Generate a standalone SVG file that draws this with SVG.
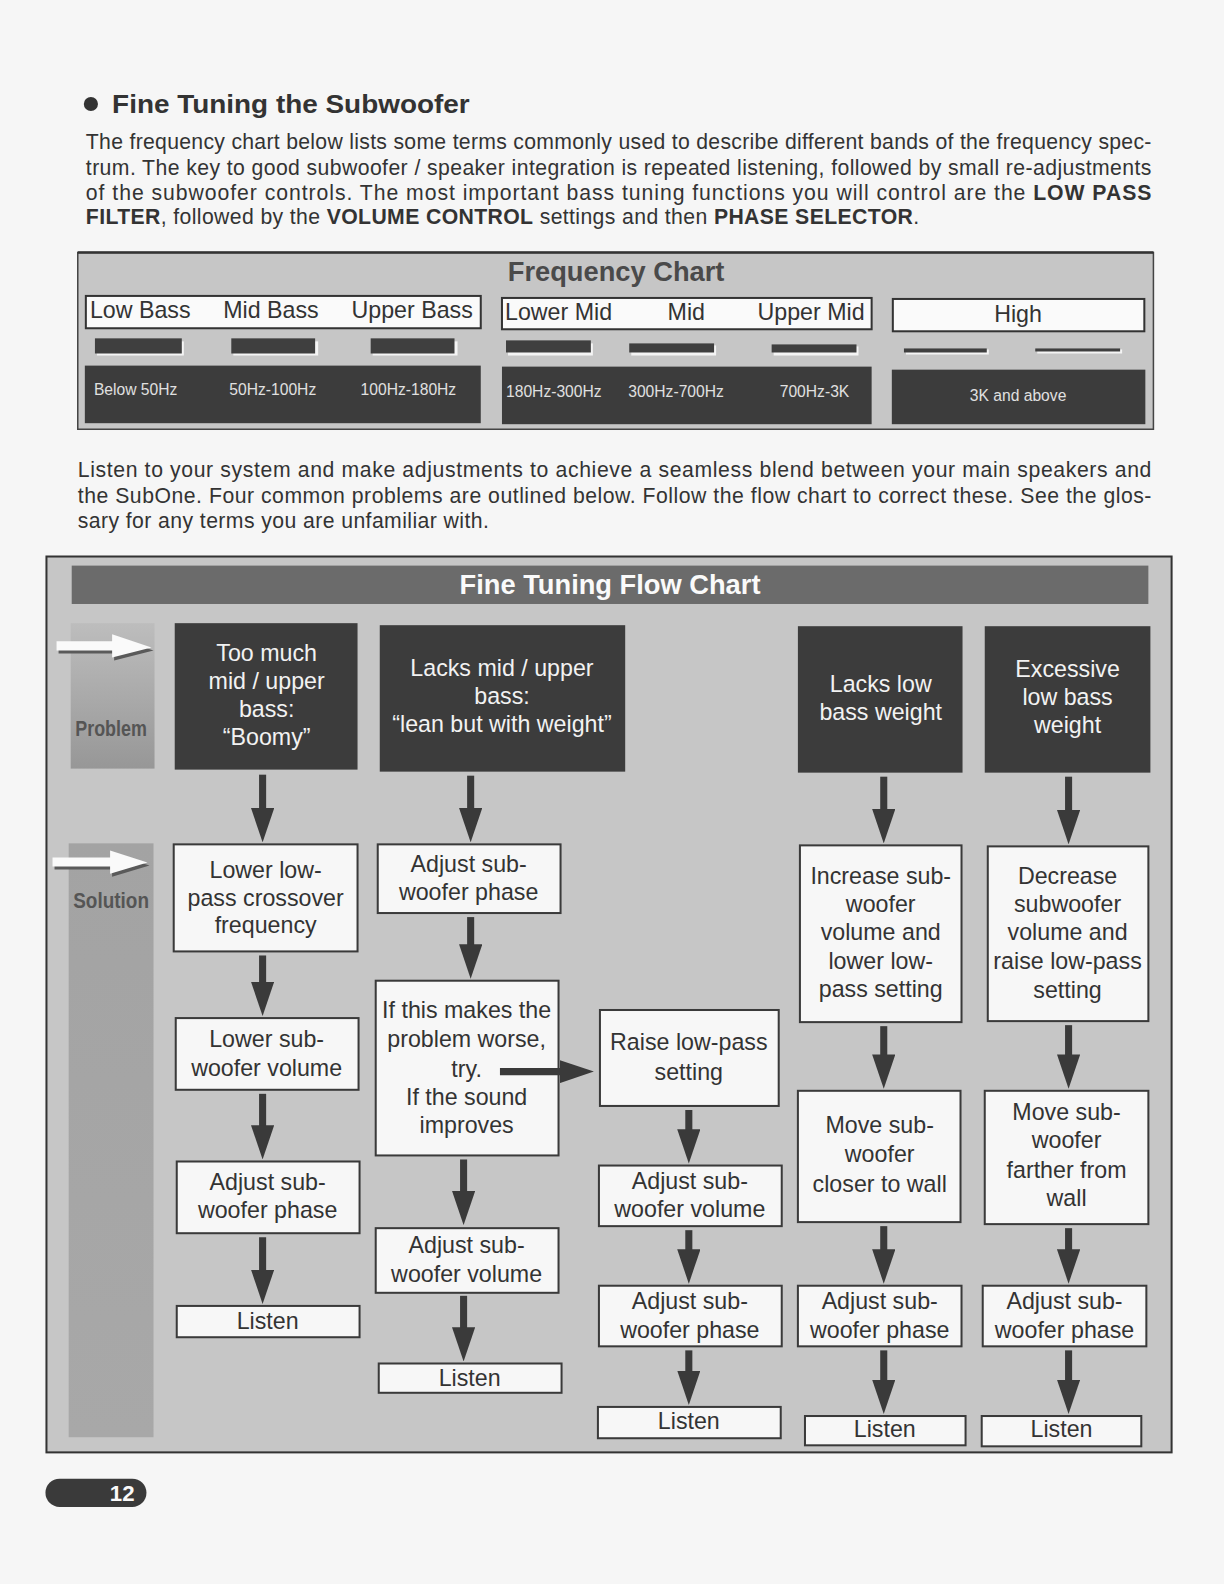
<svg xmlns="http://www.w3.org/2000/svg" width="1224" height="1584" viewBox="0 0 1224 1584">
<defs>
<style>
.t{font-family:"Liberation Sans",Arial,Helvetica,sans-serif}
.para{font-family:"Liberation Sans",Arial,sans-serif;font-size:21px;fill:#333}
.box{fill:#f7f7f7;stroke:#3a3a3a;stroke-width:2}
.prob{fill:#3c3c3c}
.bt{font-family:"Liberation Sans",Arial,sans-serif;font-size:23px;fill:#333;text-anchor:middle}
.pt{font-family:"Liberation Sans",Arial,sans-serif;font-size:23px;fill:#f2f2f2;text-anchor:middle}
.lbl{fill:#fafafa;stroke:#333;stroke-width:2}
.lt{font-family:"Liberation Sans",Arial,sans-serif;font-size:23px;fill:#333}
.rng{fill:#3c3c3c}
.rt{font-family:"Liberation Sans",Arial,sans-serif;font-size:15.5px;fill:#e0e0e0}
.bar{fill:#3f3f3f}
.barsh{fill:#f4f4f4}
.arr{stroke:#3a3a3a;stroke-width:7;fill:none;marker-end:url(#ah)}
.side{font-family:"Liberation Sans Narrow","Liberation Sans",Arial,sans-serif;font-size:21px;font-weight:bold;fill:#555;text-anchor:middle}
</style>
<marker id="ah" markerUnits="userSpaceOnUse" markerWidth="34" markerHeight="23" refX="1" refY="11.5" orient="auto" viewBox="0 0 34 23">
<path d="M0,0 L34,11.5 L0,23 Z" fill="#3a3a3a"/>
</marker>
<linearGradient id="gp" x1="0" y1="0" x2="0" y2="1">
<stop offset="0" stop-color="#bdbdbd"/>
<stop offset="1" stop-color="#979797"/>
</linearGradient>
<linearGradient id="gs" x1="0" y1="0" x2="0" y2="1">
<stop offset="0" stop-color="#a3a3a3"/>
<stop offset="1" stop-color="#a8a8a8"/>
</linearGradient>
</defs>
<rect width="1224" height="1584" fill="#f6f6f6"/>
<g transform="scale(1.01)">

<g id="heading">
<circle cx="90" cy="103" r="7" fill="#333"/>
<text class="t" x="111" y="112" font-size="25" font-weight="bold" fill="#333" textLength="354" lengthAdjust="spacingAndGlyphs">Fine Tuning the Subwoofer</text>
</g>

<g id="intro">
<text class="para" x="85" y="148" textLength="1055" lengthAdjust="spacing">The frequency chart below lists some terms commonly used to describe different bands of the frequency spec-</text>
<text class="para" x="85" y="173" textLength="1055" lengthAdjust="spacing">trum.  The key to good subwoofer / speaker integration is repeated listening, followed by small re-adjustments</text>
<text class="para" x="85" y="198" textLength="1055" lengthAdjust="spacing">of the subwoofer controls.  The most important bass tuning functions you will control are the <tspan font-weight="bold">LOW PASS</tspan></text>
<text class="para" x="85" y="222" textLength="825" lengthAdjust="spacing"><tspan font-weight="bold">FILTER</tspan>, followed by the <tspan font-weight="bold">VOLUME CONTROL</tspan> settings and then <tspan font-weight="bold">PHASE SELECTOR</tspan>.</text>
</g>

<g id="frequency-chart">
<rect x="77" y="250" width="1065" height="175" fill="#c6c6c6" stroke="#444" stroke-width="1.5"/>
<line x1="77" y1="250" x2="1142" y2="250" stroke="#333" stroke-width="2.5"/>
<text class="t" x="610" y="278" font-size="27" font-weight="bold" fill="#4a4a4a" text-anchor="middle">Frequency Chart</text>
<rect class="lbl" x="85" y="293" width="391" height="32"/>
<rect class="lbl" x="497" y="295" width="366" height="31"/>
<rect class="lbl" x="884" y="296" width="249" height="32"/>
<text class="lt" x="89" y="315">Low Bass</text>
<text class="lt" x="221" y="315">Mid Bass</text>
<text class="lt" x="348" y="315">Upper Bass</text>
<text class="lt" x="500" y="317">Lower Mid</text>
<text class="lt" x="661" y="317">Mid</text>
<text class="lt" x="750" y="317">Upper Mid</text>
<text class="lt" x="1008" y="319" text-anchor="middle">High</text>
<rect class="barsh" x="96" y="338" width="86" height="14"/>
<rect class="bar" x="94" y="335" width="86" height="15"/>
<rect class="barsh" x="231" y="338" width="84" height="14"/>
<rect class="bar" x="229" y="335" width="83" height="15"/>
<rect class="barsh" x="369" y="338" width="84" height="14"/>
<rect class="bar" x="367" y="335" width="83" height="15"/>
<rect class="barsh" x="503" y="340" width="84" height="12"/>
<rect class="bar" x="501" y="337" width="84" height="12"/>
<rect class="barsh" x="625" y="342" width="84" height="10"/>
<rect class="bar" x="623" y="340" width="84" height="9"/>
<rect class="barsh" x="766" y="343" width="84" height="9"/>
<rect class="bar" x="764" y="341" width="84" height="8"/>
<rect class="barsh" x="897" y="346" width="82" height="5"/>
<rect class="bar" x="895" y="345" width="82" height="4"/>
<rect class="barsh" x="1027" y="346" width="84" height="4"/>
<rect class="bar" x="1025" y="345" width="84" height="3"/>
<rect class="rng" x="84" y="362" width="392" height="57"/>
<rect class="rng" x="497" y="363" width="366" height="57"/>
<rect class="rng" x="883" y="366" width="251" height="54"/>
<text class="rt" x="93" y="391">Below 50Hz</text>
<text class="rt" x="227" y="391">50Hz-100Hz</text>
<text class="rt" x="357" y="391">100Hz-180Hz</text>
<text class="rt" x="501" y="393">180Hz-300Hz</text>
<text class="rt" x="622" y="393">300Hz-700Hz</text>
<text class="rt" x="772" y="393">700Hz-3K</text>
<text class="rt" x="1008" y="397" font-size="18" text-anchor="middle">3K and above</text>
</g>

<g id="intro2">
<text class="para" x="77" y="472" textLength="1063" lengthAdjust="spacing">Listen to your system and make adjustments to achieve a seamless blend between your main speakers and</text>
<text class="para" x="77" y="498" textLength="1063" lengthAdjust="spacing">the SubOne.  Four common problems are outlined below.  Follow the flow chart to correct these.  See the glos-</text>
<text class="para" x="77" y="523" textLength="407" lengthAdjust="spacing">sary for any terms you are unfamiliar with.</text>
</g>

<g id="flowchart-frame">
<rect x="46" y="551" width="1114" height="887" fill="#c6c6c6" stroke="#333" stroke-width="2"/>
<rect x="71" y="560" width="1066" height="38" fill="#6b6b6b"/>
<text class="t" x="604" y="588" font-size="27" font-weight="bold" fill="#fafafa" text-anchor="middle">Fine Tuning Flow Chart</text>
</g>

<g id="label-problem">
<rect x="70" y="617" width="83" height="144" fill="url(#gp)"/>
<text class="side" x="110" y="729" textLength="71" lengthAdjust="spacingAndGlyphs">Problem</text>
<path d="M58,638 L113,638 L113,631 L152,644 L113,654 L113,647 L58,647 Z" fill="#5a5a5a"/>
<path d="M56,635 L111,635 L111,628 L150,641 L111,651 L111,644 L56,644 Z" fill="#fafafa"/>
</g>

<g id="label-solution">
<rect x="68" y="835" width="84" height="588" fill="url(#gs)"/>
<text class="side" x="110" y="899" textLength="75" lengthAdjust="spacingAndGlyphs">Solution</text>
<path d="M54,852 L111,852 L111,845 L148,857 L111,868 L111,861 L54,861 Z" fill="#5a5a5a"/>
<path d="M52,849 L109,849 L109,842 L146,854 L109,865 L109,858 L52,858 Z" fill="#fafafa"/>
</g>

<g id="p1">
<rect class="prob" x="173" y="617" width="181" height="145"/>
<text class="pt" x="264" y="654">Too much</text>
<text class="pt" x="264" y="682">mid / upper</text>
<text class="pt" x="264" y="710">bass:</text>
<text class="pt" x="264" y="738">“Boomy”</text>
</g>
<g id="p2">
<rect class="prob" x="376" y="619" width="243" height="145"/>
<text class="pt" x="497" y="669">Lacks mid / upper</text>
<text class="pt" x="497" y="697">bass:</text>
<text class="pt" x="497" y="725">“lean but with weight”</text>
</g>
<g id="p3">
<rect class="prob" x="790" y="620" width="163" height="145"/>
<text class="pt" x="872" y="685">Lacks low</text>
<text class="pt" x="872" y="713">bass weight</text>
</g>
<g id="p4">
<rect class="prob" x="975" y="620" width="164" height="145"/>
<text class="pt" x="1057" y="670">Excessive</text>
<text class="pt" x="1057" y="698">low bass</text>
<text class="pt" x="1057" y="726">weight</text>
</g>

<g id="a1">
<rect class="box" x="172" y="836" width="182" height="106"/>
<text class="bt" x="263" y="869">Lower low-</text>
<text class="bt" x="263" y="897">pass crossover</text>
<text class="bt" x="263" y="924">frequency</text>
</g>
<g id="a2">
<rect class="box" x="174" y="1008" width="181" height="71"/>
<text class="bt" x="264" y="1037">Lower sub-</text>
<text class="bt" x="264" y="1065">woofer volume</text>
</g>
<g id="a3">
<rect class="box" x="175" y="1150" width="181" height="71"/>
<text class="bt" x="265" y="1178">Adjust sub-</text>
<text class="bt" x="265" y="1206">woofer phase</text>
</g>
<g id="a4">
<rect class="box" x="175" y="1293" width="181" height="31"/>
<text class="bt" x="265" y="1316">Listen</text>
</g>

<g id="b1">
<rect class="box" x="374" y="836" width="181" height="68"/>
<text class="bt" x="464" y="863">Adjust sub-</text>
<text class="bt" x="464" y="891">woofer phase</text>
</g>
<g id="b2">
<rect class="box" x="372" y="971" width="181" height="173"/>
<text class="bt" x="462" y="1008">If this makes the</text>
<text class="bt" x="462" y="1037">problem worse,</text>
<text class="bt" x="462" y="1066">try.</text>
<text class="bt" x="462" y="1094">If the sound</text>
<text class="bt" x="462" y="1122">improves</text>
</g>
<g id="b3">
<rect class="box" x="372" y="1216" width="181" height="64"/>
<text class="bt" x="462" y="1241">Adjust sub-</text>
<text class="bt" x="462" y="1269">woofer volume</text>
</g>
<g id="b4">
<rect class="box" x="375" y="1350" width="181" height="29"/>
<text class="bt" x="465" y="1372">Listen</text>
</g>

<g id="c1">
<rect class="box" x="594" y="1000" width="177" height="95"/>
<text class="bt" x="682" y="1040">Raise low-pass</text>
<text class="bt" x="682" y="1069">setting</text>
</g>
<g id="c2">
<rect class="box" x="593" y="1154" width="181" height="60"/>
<text class="bt" x="683" y="1177">Adjust sub-</text>
<text class="bt" x="683" y="1205">woofer volume</text>
</g>
<g id="c3">
<rect class="box" x="593" y="1273" width="181" height="60"/>
<text class="bt" x="683" y="1296">Adjust sub-</text>
<text class="bt" x="683" y="1325">woofer phase</text>
</g>
<g id="c4">
<rect class="box" x="592" y="1393" width="181" height="31"/>
<text class="bt" x="682" y="1415">Listen</text>
</g>

<g id="d1">
<rect class="box" x="792" y="837" width="160" height="175"/>
<text class="bt" x="872" y="875">Increase sub-</text>
<text class="bt" x="872" y="903">woofer</text>
<text class="bt" x="872" y="931">volume and</text>
<text class="bt" x="872" y="959">lower low-</text>
<text class="bt" x="872" y="987">pass setting</text>
</g>
<g id="d2">
<rect class="box" x="790" y="1080" width="161" height="130"/>
<text class="bt" x="871" y="1122">Move sub-</text>
<text class="bt" x="871" y="1150">woofer</text>
<text class="bt" x="871" y="1180">closer to wall</text>
</g>
<g id="d3">
<rect class="box" x="790" y="1273" width="162" height="60"/>
<text class="bt" x="871" y="1296">Adjust sub-</text>
<text class="bt" x="871" y="1325">woofer phase</text>
</g>
<g id="d4">
<rect class="box" x="797" y="1402" width="159" height="29"/>
<text class="bt" x="876" y="1423">Listen</text>
</g>

<g id="e1">
<rect class="box" x="978" y="838" width="159" height="173"/>
<text class="bt" x="1057" y="875">Decrease</text>
<text class="bt" x="1057" y="903">subwoofer</text>
<text class="bt" x="1057" y="931">volume and</text>
<text class="bt" x="1057" y="959">raise low-pass</text>
<text class="bt" x="1057" y="988">setting</text>
</g>
<g id="e2">
<rect class="box" x="975" y="1080" width="162" height="132"/>
<text class="bt" x="1056" y="1109">Move sub-</text>
<text class="bt" x="1056" y="1137">woofer</text>
<text class="bt" x="1056" y="1166">farther from</text>
<text class="bt" x="1056" y="1194">wall</text>
</g>
<g id="e3">
<rect class="box" x="973" y="1273" width="162" height="60"/>
<text class="bt" x="1054" y="1296">Adjust sub-</text>
<text class="bt" x="1054" y="1325">woofer phase</text>
</g>
<g id="e4">
<rect class="box" x="972" y="1402" width="158" height="30"/>
<text class="bt" x="1051" y="1423">Listen</text>
</g>

<g id="connectors">
<line class="arr" x1="260" y1="767" x2="260" y2="801"/>
<line class="arr" x1="260" y1="946" x2="260" y2="973"/>
<line class="arr" x1="260" y1="1083" x2="260" y2="1115"/>
<line class="arr" x1="260" y1="1225" x2="260" y2="1258"/>
<line class="arr" x1="466" y1="768" x2="466" y2="801"/>
<line class="arr" x1="466" y1="908" x2="466" y2="936"/>
<line class="arr" x1="459" y1="1148" x2="459" y2="1180"/>
<line class="arr" x1="459" y1="1283" x2="459" y2="1315"/>
<line class="arr" x1="495" y1="1061" x2="555" y2="1061"/>
<line class="arr" x1="682" y1="1099" x2="682" y2="1119"/>
<line class="arr" x1="682" y1="1218" x2="682" y2="1238"/>
<line class="arr" x1="682" y1="1337" x2="682" y2="1358"/>
<line class="arr" x1="875" y1="769" x2="875" y2="802"/>
<line class="arr" x1="875" y1="1016" x2="875" y2="1045"/>
<line class="arr" x1="875" y1="1214" x2="875" y2="1238"/>
<line class="arr" x1="875" y1="1337" x2="875" y2="1367"/>
<line class="arr" x1="1058" y1="769" x2="1058" y2="803"/>
<line class="arr" x1="1058" y1="1015" x2="1058" y2="1045"/>
<line class="arr" x1="1058" y1="1216" x2="1058" y2="1238"/>
<line class="arr" x1="1058" y1="1337" x2="1058" y2="1367"/>
</g>

<g id="page-number">
<rect x="45" y="1464" width="100" height="28" rx="14" fill="#3a3a3a"/>
<text class="t" x="121" y="1486" font-size="22" font-weight="bold" fill="#fafafa" text-anchor="middle">12</text>
</g>
</g>
</svg>
